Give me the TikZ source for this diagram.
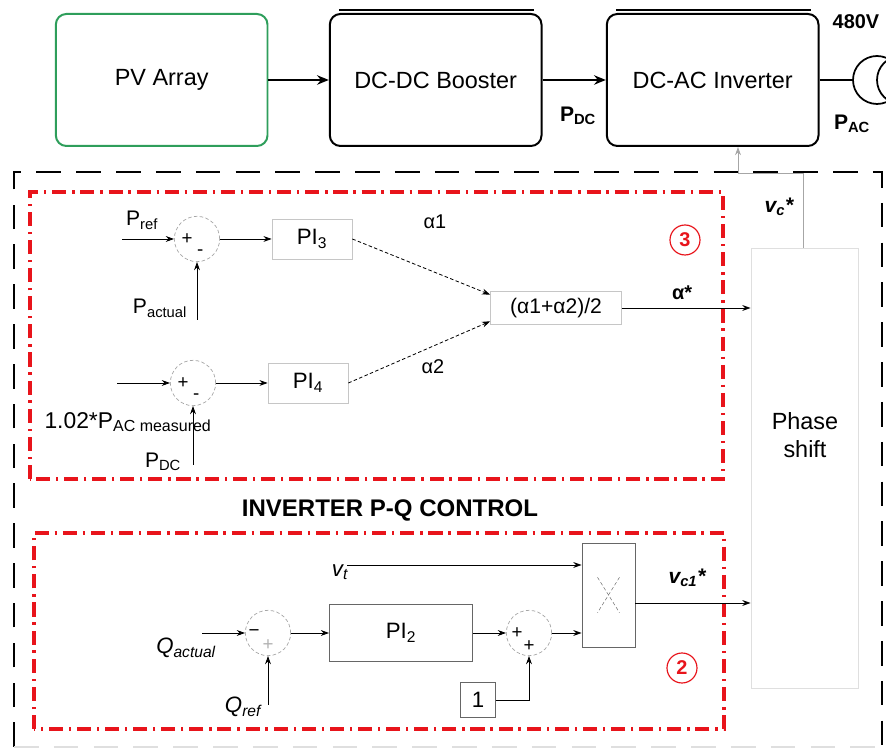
\documentclass[tikz,border=0pt]{standalone}
\usepackage{fontspec}
\setmainfont{Liberation Sans}
\usetikzlibrary{positioning, calc, arrows.meta}
\definecolor{pvgreen}{HTML}{2E9E5B}
\definecolor{boxred}{HTML}{E8141B}

\begin{document}
\begin{tikzpicture}[
  block/.style={draw, line width=1.7pt, rounded corners=9pt, minimum width=6.35cm, minimum height=3.96cm, font=\fontsize{20}{24}\selectfont},
  ctrl/.style={draw=gray!45, line width=0.6pt, minimum height=1.2cm, minimum width=2.4cm, font=\fontsize{19}{22}\selectfont},
  sumj/.style={draw=gray!70, densely dashed, line width=0.6pt, circle, minimum size=1.36cm, inner sep=0pt},
  sumsign/.style={font=\fontsize{16}{18}\selectfont, inner sep=0pt},
  lbl/.style={inner sep=0pt, font=\fontsize{18}{20}\selectfont},
  region/.style={draw=boxred, line width=3pt, dash pattern=on 12pt off 5pt on 2pt off 5pt},
  numtag/.style={draw=boxred, circle, line width=1pt, minimum size=0.9cm, inner sep=0pt, text=boxred, font=\bfseries\fontsize{17}{20}\selectfont},
  sig/.style={->, line width=0.7pt},
  >={Stealth[length=7pt, width=5pt]}
]
  \useasboundingbox (0, 0) rectangle (26.58, 22.47);

  % Power stage
  \node[block, draw=pvgreen] (pv) at (4.85, 20.07) {PV Array};
  \node[block] (boost) at (13.07, 20.07) {DC-DC Booster};
  \node[block] (inv) at (21.38, 20.07) {DC-AC Inverter};
  \foreach \b in {boost, inv} {
    \draw[line width=2.5pt] ([shift={(0.3,0.09)}]\b.north west) -- ([shift={(-0.25,0.09)}]\b.north east);
  }
  \node[draw, circle, line width=1.5pt, minimum size=1.44cm] (tr1) at (26.31, 20.07) {};
  \node[draw, circle, line width=1.5pt, minimum size=1.44cm] (tr2) at (27.03, 20.07) {};

  \draw[->, line width=2pt, >={Stealth[length=10pt, width=8pt]}] (pv) -- (boost);
  \draw[->, line width=2pt, >={Stealth[length=10pt, width=8pt]}] (boost) -- (inv);
  \draw[line width=1.5pt] (inv) -- (tr1);

  \node[font=\bfseries\fontsize{18}{20}\selectfont] (pdc) at (17.34, 18.99) {P\textsubscript{DC}};
  \node[font=\bfseries\fontsize{18}{20}\selectfont] (pac) at (25.56, 18.75) {P\textsubscript{AC}};
  \node[anchor=east, font=\bfseries\fontsize{17}{20}\selectfont] (volt) at (26.5, 21.81) {480V};

  % Control frame
  \draw[line width=1.6pt, dash pattern=on 21pt off 13pt] (0.42, 0.06) -- (0.42, 17.31) -- (26.46, 17.31) -- (26.46, 0.06);
  \draw[gray!25, line width=1.6pt, dash pattern=on 21pt off 13pt] (0.42, 0.06) -- (26.46, 0.06);
  \draw[region] (0.9, 8.1) rectangle (21.69, 16.71);
  \draw[region] (1.02, 0.6) rectangle (21.72, 6.48);
  \node[numtag] (tag3) at (20.55, 15.27) {3};
  \node[numtag] (tag2) at (20.46, 2.43) {2};
  \node[font=\bfseries\fontsize{20.5}{24}\selectfont] (title) at (11.7, 7.17) {INVERTER P-Q CONTROL};

  % Phase shift
  \node[draw=gray!25, line width=0.8pt, minimum width=3.21cm, minimum height=13.2cm] (phase) at (24.135, 8.43) {};
  \node[align=center, font=\fontsize{20}{24}\selectfont] (phasetxt) at (24.15, 9.42) {Phase\\shift};
  \coordinate (fb1) at (24.09, 17.28);
  \coordinate (fb2) at (22.14, 17.28);
  \draw[sig, gray!70] (phase.north -| fb1) -- (fb1) -- (fb2) -- (fb2 |- inv.south);
  \node[lbl, font=\bfseries\itshape\fontsize{18}{20}\selectfont] (vc) at (23.37, 16.26) {v\textsubscript{c}*};

  % Active power loop
  \node[sumj] (sum1) at (5.91, 15.3) {};
  \node[sumj] (sum2) at (5.79, 10.98) {};
  \node[ctrl] (pi3) at (9.36, 15.3) {PI\textsubscript{3}};
  \node[ctrl] (pi4) at (9.24, 10.98) {PI\textsubscript{4}};
  \node[ctrl, minimum width=3.93cm, minimum height=0.99cm, font=\fontsize{18}{20}\selectfont] (avg) at (16.68, 13.23) {(α1+α2)/2};
  \foreach \s in {sum1, sum2} {
    \node[sumsign] (\s-p) at ([xshift=-0.3cm]\s.center) {+};
    \node[sumsign] (\s-m) at ([shift={(0.1,-0.42)}]\s.center) {-};
  }

  \coordinate (pref) at (3.66, 15.3);
  \coordinate (pact) at (5.91, 12.87);
  \coordinate (pin) at (3.51, 10.98);
  \coordinate (pdcin) at (5.79, 8.52);
  \node[lbl] (preflbl) at (4.26, 15.87) {P\textsubscript{ref}};
  \node[lbl] (pactlbl) at (4.8, 13.23) {P\textsubscript{actual}};
  \node[lbl, font=\fontsize{19.5}{22}\selectfont] (pacmlbl) at (3.84, 9.81) {1.02*P\textsubscript{AC measured}};
  \node[lbl] (pdclbl) at (4.89, 8.61) {P\textsubscript{DC}};

  \draw[sig] (pref) -- (sum1);
  \draw[sig] (pact) -- (sum1);
  \draw[sig] (pin) -- (sum2);
  \draw[sig] (pdcin) -- (sum2);
  \draw[sig] (sum1) -- (pi3);
  \draw[sig] (sum2) -- (pi4);
  \draw[sig, densely dashed] (pi3.east) -- ([yshift=0.4cm]avg.west);
  \draw[sig, densely dashed] (pi4.east) -- ([yshift=-0.4cm]avg.west);
  \draw[sig] (avg) -- (avg -| phase.west);
  \node[lbl, font=\fontsize{17}{20}\selectfont] (a1) at (13.05, 15.81) {α1};
  \node[lbl, font=\fontsize{17}{20}\selectfont] (a2) at (12.99, 11.46) {α2};
  \node[lbl, font=\bfseries\fontsize{17}{20}\selectfont] (astar) at (20.46, 13.68) {α*};

  % Reactive power loop
  \node[sumj] (sum3) at (8.04, 3.48) {};
  \node[sumj] (sum4) at (15.87, 3.48) {};
  \node[draw=gray!80!black, line width=0.8pt, minimum width=4.29cm, minimum height=1.71cm, font=\fontsize{19}{22}\selectfont] (pi2) at (12.03, 3.48) {PI\textsubscript{2}};
  \node[draw=gray!80!black, line width=0.8pt, minimum size=1.05cm, font=\fontsize{19}{22}\selectfont] (one) at (14.34, 1.47) {1};
  \node[draw=gray!80!black, line width=0.8pt, minimum width=1.59cm, minimum height=3.12cm] (mult) at (18.255, 4.62) {};
  \draw[gray!80!black, densely dashed] ([shift={(-0.33,0.53)}]mult.center) -- ([shift={(0.33,-0.53)}]mult.center);
  \draw[gray!80!black, densely dashed] ([shift={(0.33,0.53)}]mult.center) -- ([shift={(-0.33,-0.53)}]mult.center);
  \node[sumsign] (sum3-m) at ([xshift=-0.42cm]sum3.center) {−};
  \node[sumsign, text=gray!60] (sum3-p) at ([yshift=-0.36cm]sum3.center) {+};
  \node[sumsign] (sum4-p) at ([xshift=-0.36cm]sum4.center) {+};
  \node[sumsign] (sum4-q) at ([shift={(0,-0.38)}]sum4.center) {+};

  \coordinate (qact) at (6.06, 3.48);
  \coordinate (qref) at (8.04, 1.32);
  \coordinate (vt) at (10.41, 5.52);
  \node[lbl, font=\itshape\fontsize{19}{22}\selectfont] (qactlbl) at (5.58, 3.03) {Q\textsubscript{actual}};
  \node[lbl, font=\itshape\fontsize{19}{22}\selectfont] (qreflbl) at (7.29, 1.26) {Q\textsubscript{ref}};
  \node[lbl, font=\itshape\fontsize{19}{22}\selectfont] (vtlbl) at (10.2, 5.31) {v\textsubscript{t}};

  \draw[sig] (qact) -- (sum3);
  \draw[sig] (qref) -- (sum3);
  \draw[sig] (sum3) -- (pi2);
  \draw[sig] (pi2) -- (sum4);
  \draw[sig] (one) -| (sum4);
  \draw[sig] (sum4) -- (sum4 -| mult.west);
  \draw[sig] (vt) -- (vt -| mult.west);
  \draw[sig] ([yshift=-0.24cm]mult.east) -- ([yshift=-0.24cm]mult.east -| phase.west);
  \node[lbl, font=\bfseries\itshape\fontsize{18}{20}\selectfont] (vc1) at (20.61, 5.13) {v\textsubscript{c1}*};
\end{tikzpicture}
\end{document}
